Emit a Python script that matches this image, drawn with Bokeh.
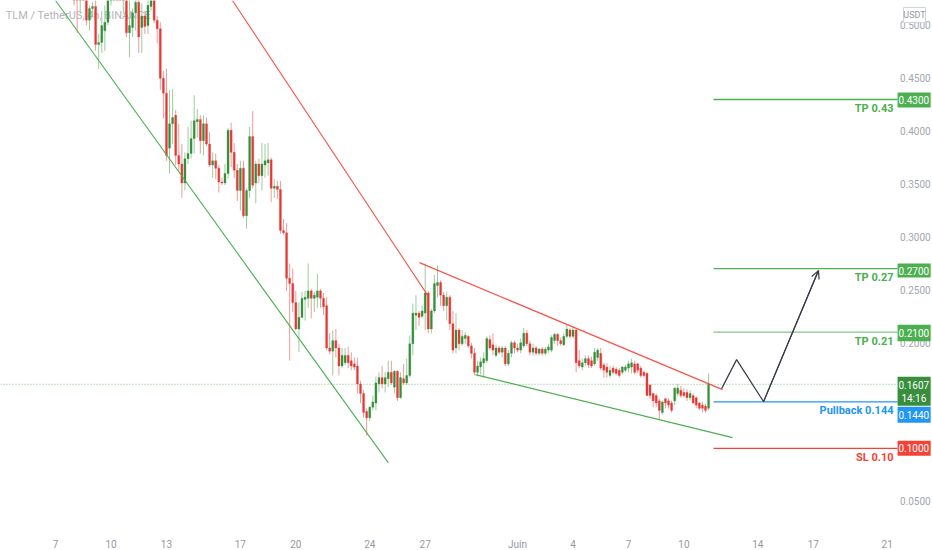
import pandas as pd
from bokeh.plotting import figure
from bokeh.models import ColumnDataSource, FixedTicker, Range1d, Arrow, OpenHead
from bokeh.core.properties import value
from bokeh.embed import file_html
from bokeh.resources import INLINE

# ---------------- data ----------------
chart_title = "TLM / TetherUS, 4h, BINANCE"
first_candle = "2021-05-08 00:00"
opens = [0.544,0.564,0.529,0.554,0.544,0.505,0.516,0.518,0.482,0.484,0.495,0.503,0.524,0.544,0.554,0.549,0.529,0.534,0.493,0.498,
         0.512,0.522,0.498,0.509,0.500,0.518,0.529,0.505,0.497,0.450,0.436,0.384,0.407,0.415,0.377,0.369,0.351,0.374,0.379,0.393,
         0.409,0.411,0.391,0.407,0.388,0.368,0.372,0.365,0.352,0.351,0.360,0.401,0.380,0.363,0.344,0.365,0.320,0.344,0.395,0.351,
         0.369,0.358,0.368,0.370,0.373,0.346,0.348,0.345,0.306,0.304,0.261,0.256,0.238,0.213,0.224,0.241,0.242,0.249,0.242,0.243,
         0.249,0.242,0.235,0.195,0.192,0.202,0.195,0.178,0.181,0.188,0.183,0.180,0.178,0.161,0.152,0.135,0.129,0.139,0.143,0.161,
         0.167,0.161,0.166,0.172,0.158,0.173,0.148,0.166,0.162,0.169,0.199,0.226,0.228,0.225,0.228,0.247,0.213,0.230,0.254,0.257,
         0.245,0.235,0.243,0.218,0.195,0.212,0.199,0.204,0.206,0.197,0.190,0.172,0.177,0.181,0.183,0.203,0.198,0.188,0.195,0.191,
         0.195,0.180,0.190,0.200,0.195,0.193,0.197,0.209,0.199,0.191,0.195,0.190,0.194,0.190,0.193,0.193,0.202,0.208,0.202,0.198,
         0.206,0.212,0.206,0.212,0.183,0.177,0.181,0.185,0.183,0.180,0.186,0.190,0.179,0.177,0.169,0.176,0.175,0.174,0.172,0.174,
         0.176,0.177,0.180,0.180,0.176,0.172,0.171,0.160,0.152,0.150,0.145,0.134,0.147,0.145,0.143,0.145,0.152,0.155,0.153,0.153,
         0.148,0.150,0.148,0.143,0.141,0.140,0.138]
highs = [0.564,0.584,0.564,0.574,0.564,0.519,0.522,0.524,0.492,0.514,0.519,0.544,0.554,0.564,0.574,0.569,0.554,0.549,0.529,0.516,
         0.534,0.529,0.521,0.514,0.524,0.539,0.539,0.509,0.503,0.457,0.459,0.439,0.440,0.420,0.407,0.388,0.380,0.404,0.410,0.434,
         0.421,0.415,0.415,0.413,0.399,0.380,0.379,0.368,0.356,0.369,0.403,0.408,0.389,0.369,0.372,0.372,0.346,0.404,0.419,0.372,
         0.374,0.389,0.388,0.389,0.375,0.355,0.353,0.353,0.317,0.313,0.275,0.270,0.249,0.238,0.248,0.249,0.275,0.251,0.248,0.265,
         0.251,0.247,0.243,0.209,0.212,0.213,0.199,0.195,0.195,0.196,0.191,0.186,0.186,0.164,0.155,0.138,0.140,0.150,0.168,0.172,
         0.178,0.172,0.183,0.183,0.174,0.174,0.172,0.180,0.185,0.207,0.237,0.245,0.230,0.235,0.275,0.249,0.232,0.264,0.273,0.259,
         0.248,0.248,0.245,0.230,0.228,0.214,0.212,0.210,0.207,0.200,0.195,0.183,0.186,0.191,0.206,0.207,0.209,0.198,0.197,0.197,
         0.197,0.193,0.202,0.202,0.199,0.204,0.214,0.212,0.202,0.199,0.197,0.195,0.196,0.196,0.199,0.207,0.209,0.209,0.205,0.209,
         0.217,0.214,0.216,0.213,0.193,0.185,0.188,0.188,0.187,0.195,0.195,0.195,0.181,0.181,0.178,0.178,0.177,0.176,0.178,0.179,
         0.183,0.185,0.183,0.181,0.178,0.174,0.172,0.161,0.152,0.152,0.147,0.145,0.148,0.148,0.145,0.158,0.161,0.159,0.157,0.156,
         0.155,0.152,0.149,0.144,0.144,0.142,0.171]
lows = [0.519,0.493,0.511,0.524,0.500,0.495,0.509,0.476,0.459,0.474,0.476,0.500,0.519,0.529,0.534,0.529,0.511,0.489,0.470,0.489,
        0.495,0.474,0.474,0.492,0.492,0.514,0.502,0.483,0.439,0.412,0.372,0.360,0.388,0.368,0.363,0.337,0.344,0.369,0.374,0.379,
        0.394,0.379,0.377,0.386,0.366,0.356,0.355,0.342,0.349,0.349,0.355,0.366,0.356,0.334,0.325,0.318,0.308,0.337,0.346,0.332,
        0.351,0.344,0.356,0.358,0.333,0.337,0.336,0.303,0.302,0.249,0.183,0.229,0.212,0.191,0.223,0.221,0.233,0.223,0.229,0.233,
        0.233,0.226,0.193,0.189,0.169,0.186,0.169,0.176,0.179,0.176,0.174,0.174,0.152,0.143,0.129,0.112,0.126,0.136,0.136,0.153,
        0.157,0.153,0.158,0.160,0.152,0.145,0.147,0.160,0.160,0.167,0.188,0.212,0.216,0.223,0.212,0.209,0.209,0.228,0.243,0.235,
        0.230,0.221,0.212,0.190,0.190,0.193,0.197,0.199,0.195,0.185,0.169,0.168,0.170,0.167,0.181,0.193,0.188,0.186,0.189,0.186,
        0.178,0.178,0.186,0.190,0.191,0.190,0.195,0.197,0.188,0.188,0.188,0.188,0.188,0.188,0.190,0.191,0.199,0.197,0.197,0.197,
        0.204,0.204,0.204,0.172,0.176,0.174,0.178,0.176,0.176,0.178,0.183,0.174,0.167,0.167,0.167,0.170,0.169,0.167,0.170,0.172,
        0.172,0.171,0.170,0.171,0.167,0.167,0.150,0.147,0.139,0.139,0.127,0.132,0.138,0.138,0.134,0.141,0.149,0.148,0.148,0.145,
        0.146,0.142,0.138,0.136,0.134,0.134,0.136]
closes = [0.534,0.529,0.554,0.544,0.505,0.516,0.518,0.482,0.484,0.500,0.503,0.524,0.544,0.554,0.549,0.539,0.544,0.493,0.500,0.512,
          0.522,0.489,0.509,0.499,0.519,0.529,0.505,0.497,0.450,0.436,0.377,0.407,0.413,0.377,0.369,0.351,0.374,0.379,0.393,0.410,
          0.411,0.391,0.407,0.388,0.368,0.372,0.365,0.352,0.351,0.360,0.401,0.380,0.363,0.344,0.365,0.320,0.344,0.395,0.349,0.369,
          0.358,0.369,0.372,0.373,0.346,0.348,0.345,0.306,0.304,0.261,0.256,0.238,0.213,0.224,0.242,0.243,0.249,0.242,0.245,0.249,
          0.242,0.234,0.195,0.192,0.202,0.195,0.178,0.188,0.188,0.181,0.178,0.177,0.161,0.152,0.134,0.129,0.139,0.144,0.162,0.167,
          0.161,0.167,0.172,0.162,0.173,0.148,0.167,0.162,0.169,0.199,0.228,0.228,0.224,0.230,0.247,0.213,0.230,0.256,0.257,0.245,
          0.235,0.243,0.218,0.193,0.212,0.199,0.206,0.207,0.197,0.190,0.172,0.178,0.182,0.185,0.204,0.195,0.193,0.195,0.191,0.195,
          0.180,0.190,0.200,0.195,0.193,0.200,0.209,0.199,0.191,0.195,0.190,0.194,0.190,0.194,0.196,0.205,0.208,0.202,0.199,0.206,
          0.213,0.206,0.212,0.181,0.178,0.181,0.185,0.179,0.178,0.191,0.193,0.176,0.174,0.172,0.174,0.172,0.171,0.169,0.177,0.177,
          0.180,0.181,0.172,0.174,0.169,0.169,0.150,0.150,0.145,0.143,0.136,0.144,0.143,0.141,0.136,0.157,0.157,0.150,0.150,0.148,
          0.152,0.143,0.141,0.138,0.138,0.136,0.1607]

x_tick_days = [7, 10, 13, 17, 20, 24, 27, 32, 35, 38, 41, 45, 48, 52]
x_tick_labels = ["7", "10", "13", "17", "20", "24", "27", "Juin", "4", "7", "10", "14", "17", "21"]
y_tick_values = [0.05, 0.10, 0.15, 0.20, 0.25, 0.30, 0.35, 0.40, 0.45, 0.50]
y_tick_labels = ["0.0500", "0.1000", "0.1500", "0.2000", "0.2500", "0.3000", "0.3500", "0.4000", "0.4500", "0.5000"]

# drawn trend lines (day-of-May, price)
channel_low_x, channel_low_y = [6.996, 25.0], [0.5236, 0.0866]
channel_high_x, channel_high_y = [16.57, 27.18], [0.5236, 0.2436]
wedge_top_x, wedge_top_y = [26.69, 43.09], [0.2757, 0.1556]
wedge_bottom_x, wedge_bottom_y = [29.72, 43.63], [0.1698, 0.1102]
projection_x = [43.04, 43.85, 45.31, 48.28]
projection_y = [0.1566, 0.1840, 0.1443, 0.2682]

level_names = ["TP 0.43", "TP 0.27", "TP 0.21", "Pullback 0.144", "SL 0.10"]
level_prices = [0.43, 0.27, 0.21, 0.144, 0.10]
level_line_colors = ["#4caf50", "#4caf50", "#81c784", "#2196f3", "#f44336"]
level_text_colors = ["#4caf50", "#4caf50", "#4caf50", "#2196f3", "#f44336"]
level_start_day = 42.60
last_price = 0.1607
countdown = "14:16"

# price-scale tags
tag_tops = [0.4366, 0.2748, 0.2171, 0.1679, 0.1395, 0.1074]
tag_bottoms = [0.4224, 0.2616, 0.2015, 0.1405, 0.1244, 0.0932]
tag_colors = ["#4caf50", "#4caf50", "#4caf50", "#388e3c", "#2196f3", "#f44336"]
tag_texts = ["0.4300", "0.2700", "0.2100", "0.1607", countdown, "0.1440", "0.1000"]
tag_text_prices = [0.4295, 0.2682, 0.2093, 0.1603, 0.1473, 0.1320, 0.1003]

# ---------------- figure ----------------
FONT = "Roboto"
X0, X1 = 4.02, 54.45          # full width incl. price scale
SCALE_LEFT, SCALE_RIGHT = 52.56, 54.35
SCALE_MID = 53.52
Y0, Y1 = 0.0300, 0.5236

times = pd.date_range(first_candle, periods=len(closes), freq="4h")
days = ((times - pd.Timestamp("2021-05-01")) / pd.Timedelta(days=1) + 1).to_numpy()

up = [c >= o for o, c in zip(opens, closes)]
src = ColumnDataSource(dict(
    x=days, o=opens, h=highs, l=lows, c=closes,
    top=[max(o, c) for o, c in zip(opens, closes)],
    bot=[min(o, c) for o, c in zip(opens, closes)],
    body=["#388e3c" if u else "#e53935" for u in up],
    wick=["#9ccc9e" if u else "#f19a98" for u in up],
))

p = figure(frame_width=932, frame_height=522, title=None,
           x_range=Range1d(X0, X1), y_range=Range1d(Y0, Y1),
           y_axis_location=None, output_backend="svg", toolbar_location=None,
           min_border=0, min_border_left=0, min_border_right=0,
           min_border_top=0, min_border_bottom=28)
p.background_fill_color = "white"
p.border_fill_color = "white"
p.outline_line_color = None
p.grid.visible = False

# watermark title
p.text(x=[X0 + 0.28], y=[0.5095], text=[chart_title], text_font=value(FONT),
       text_font_size="11px", text_color="#b2b5be", text_baseline="middle")

# last price dotted line
p.line([X0, SCALE_LEFT], [last_price, last_price], line_color="#43a047", line_alpha=0.7,
       line_dash="1 2", line_width=1)

# candles
p.segment(x0="x", y0="l", x1="x", y1="h", line_color="wick", line_width=1, source=src)
p.vbar(x="x", width=0.11, top="top", bottom="bot", fill_color="body",
       line_color="body", line_width=0.3, source=src)

# trend lines
p.line(channel_low_x, channel_low_y, line_color="#4caf50", line_width=1.1)
p.line(channel_high_x, channel_high_y, line_color="#f44336", line_width=1.1, line_alpha=0.9)
p.line(wedge_top_x, wedge_top_y, line_color="#f44336", line_width=1.2, line_alpha=0.9)
p.line(wedge_bottom_x, wedge_bottom_y, line_color="#4caf50", line_width=1.2)

# levels
for name, price, lcol, tcol in zip(level_names, level_prices, level_line_colors, level_text_colors):
    p.line([level_start_day, SCALE_LEFT], [price, price], line_color=lcol, line_width=1.3)
    p.text(x=[52.34], y=[price], text=[name], text_font=value(FONT),
           text_font_size="11px", text_font_style="bold", text_color=tcol,
           text_align="right", text_baseline="middle", y_offset=9)

# projection path
p.line(projection_x, projection_y, line_color="#363a45", line_width=1.2)
p.add_layout(Arrow(end=OpenHead(size=8, line_color="#363a45", line_width=1.2),
                   x_start=projection_x[-2], y_start=projection_y[-2],
                   x_end=projection_x[-1], y_end=projection_y[-1],
                   line_color="#363a45", line_width=1.2))

# price scale labels
p.text(x=[SCALE_MID] * len(y_tick_values), y=y_tick_values, text=y_tick_labels,
       text_font=value(FONT), text_font_size="10px", text_color="#a3a6af",
       text_align="center", text_baseline="middle")

# currency box
p.quad(left=[52.88], right=[54.07], top=[0.5170], bottom=[0.5028],
       fill_color="white", line_color="#d1d4dc", line_width=1)
p.text(x=[53.475], y=[0.5099], text=["USDT"], text_font=value(FONT),
       text_font_size="9px", text_color="#9598a1", text_align="center", text_baseline="middle")

# price tags
p.quad(left=[SCALE_LEFT] * len(tag_tops), right=[SCALE_RIGHT] * len(tag_tops),
       top=tag_tops, bottom=tag_bottoms, fill_color=tag_colors, line_color=None)
p.text(x=[SCALE_MID - 0.08] * len(tag_texts), y=tag_text_prices, text=tag_texts,
       text_font=value(FONT), text_font_size="10px", text_color="white",
       text_align="center", text_baseline="middle")

# time axis
xa = p.xaxis[0]
xa.ticker = FixedTicker(ticks=x_tick_days)
xa.major_label_overrides = {d: t for d, t in zip(x_tick_days, x_tick_labels)}
xa.axis_line_color = None
xa.major_tick_line_color = None
xa.minor_tick_line_color = None
xa.major_label_text_font = FONT
xa.major_label_text_font_size = "10px"
xa.major_label_text_color = "#9598a1"
xa.major_label_standoff = 10

open("out.html", "w").write(file_html(p, INLINE))
